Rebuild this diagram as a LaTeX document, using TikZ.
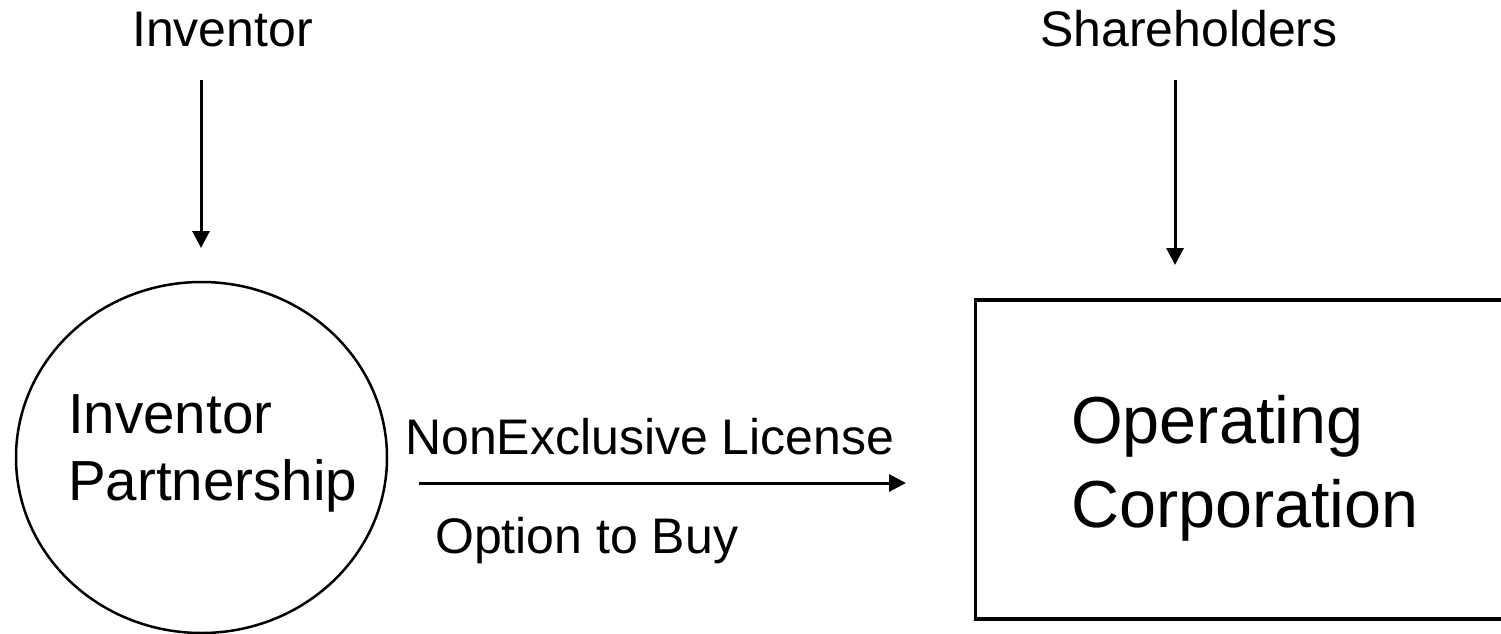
\documentclass[tikz,border=0pt]{standalone}
\usepackage{fontspec}
\setmainfont{Liberation Sans}
\usetikzlibrary{arrows.meta,shapes.geometric}
\begin{document}
\begin{tikzpicture}[x=1pt,y=-1pt,
  lbl/.style={inner sep=0pt,anchor=base west,font=\fontsize{50}{60}\selectfont},
  midlbl/.style={inner sep=0pt,anchor=base west,font=\fontsize{50}{60}\selectfont},
  circlbl/.style={inner sep=0pt,anchor=base west,font=\fontsize{56.5}{67}\selectfont},
  boxlbl/.style={inner sep=0pt,anchor=base west,font=\fontsize{66.5}{84}\selectfont},
  flow/.style={line width=3pt,-{Triangle[length=17pt,width=17pt]}}]
\useasboundingbox (0,0) rectangle (1501,634);
% top labels
\node[lbl] (inv) at (132,47) {Inventor};
\node[lbl] (sh) at (1040,47) {Shareholders};
% partnership ellipse
\node[draw,ellipse,line width=2.5pt,minimum width=371pt,minimum height=351pt,inner sep=0pt] (ip) at (201.5,457.5) {};
\node[circlbl] (ip1) at (68,433) {Inventor};
\node[circlbl] (ip2) at (68,500) {Partnership};
% operating corporation box
\node[draw,line width=3.5pt,anchor=north west,minimum width=531pt,minimum height=319pt,inner sep=0pt] (oc) at (973.5,298) {};
\node[boxlbl] (oc1) at (1071,443) {Operating};
\node[boxlbl] (oc2) at (1071,527) {Corporation};
% arrow labels
\node[midlbl] (nel) at (405,454) {NonExclusive License};
\node[midlbl] (otb) at (435,553) {Option to Buy};
% arrow end points
\coordinate (a1s) at (201,80);
\coordinate (a1e) at (201,248);
\coordinate (a2s) at (1175,80);
\coordinate (a2e) at (1175,265);
\coordinate (a3s) at (419,483);
\coordinate (a3e) at (906,483);
\draw[flow] (a1s) -- (a1e);
\draw[flow] (a2s) -- (a2e);
\draw[flow] (a3s) -- (a3e);
\end{tikzpicture}
\end{document}
